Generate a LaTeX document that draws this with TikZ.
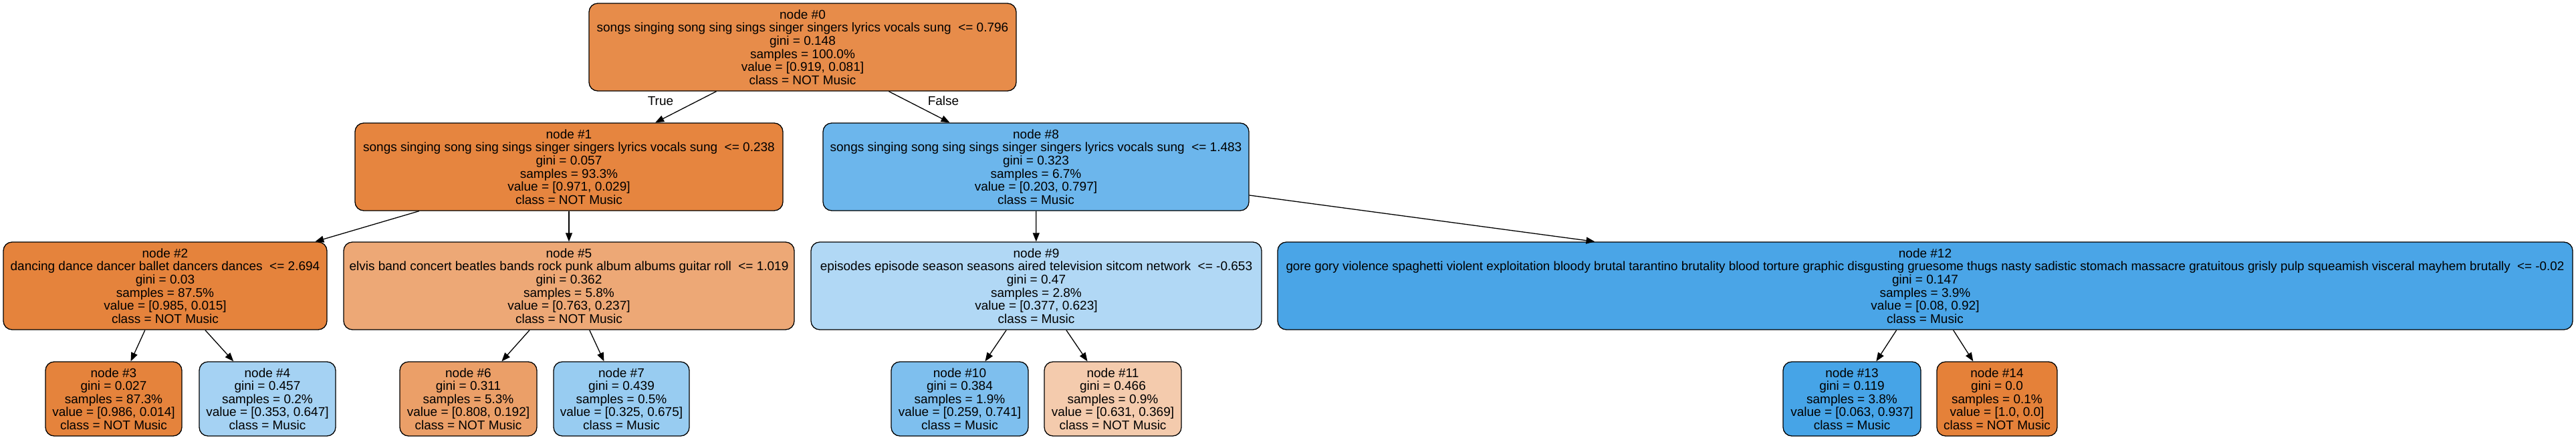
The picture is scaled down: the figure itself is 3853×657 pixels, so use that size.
\documentclass[tikz,border=0pt]{standalone}
\usepackage{graphicx}
\usepackage{fontspec}
\setmainfont{Liberation Sans}
\usetikzlibrary{arrows.meta}
\definecolor{c0}{HTML}{E78C4A}
\definecolor{c1}{HTML}{E6853F}
\definecolor{c2}{HTML}{E5833C}
\definecolor{c3}{HTML}{E5833C}
\definecolor{c4}{HTML}{A5D2F3}
\definecolor{c5}{HTML}{EDA876}
\definecolor{c6}{HTML}{EB9F68}
\definecolor{c7}{HTML}{98CCF1}
\definecolor{c8}{HTML}{6CB6EC}
\definecolor{c9}{HTML}{B1D8F5}
\definecolor{c10}{HTML}{7EBFEE}
\definecolor{c11}{HTML}{F4CBAD}
\definecolor{c12}{HTML}{4AA5E7}
\definecolor{c13}{HTML}{46A4E7}
\definecolor{c14}{HTML}{E58139}
\tikzset{
  tnode/.style={draw=black, line width=1.3pt, rounded corners=13pt, align=center,
    inner sep=0pt, font=\fontsize{19}{19.6}\selectfont, minimum height=131pt},
  leaf/.style={tnode, minimum height=111pt, minimum width=205pt},
  edge/.style={-{Triangle[length=13pt,width=10pt]}, line width=1.3pt},
  elabel/.style={font=\fontsize{19}{19.6}\selectfont, inner sep=0pt}
}
\begin{document}
\begin{tikzpicture}[x=1pt,y=-1pt]
\useasboundingbox (0,0) rectangle (3853,657);
% level 0
\node[tnode, fill=c0, minimum width=639pt] (n0) at (1200.5,70.5)
  {node \#0\\songs singing song sing sings singer singers lyrics vocals sung~ <= 0.796\\gini = 0.148\\samples = 100.0\%\\value = [0.919, 0.081]\\class = NOT Music};
% level 1
\node[tnode, fill=c1, minimum width=640pt] (n1) at (851,249.5)
  {node \#1\\songs singing song sing sings singer singers lyrics vocals sung~ <= 0.238\\gini = 0.057\\samples = 93.3\%\\value = [0.971, 0.029]\\class = NOT Music};
\node[tnode, fill=c8, minimum width=637pt] (n8) at (1549.5,249.5)
  {node \#8\\songs singing song sing sings singer singers lyrics vocals sung~ <= 1.483\\gini = 0.323\\samples = 6.7\%\\value = [0.203, 0.797]\\class = Music};
% level 2
\node[tnode, fill=c2, minimum width=484pt] (n2) at (247,427.5)
  {node \#2\\dancing dance dancer ballet dancers dances~ <= 2.694\\gini = 0.03\\samples = 87.5\%\\value = [0.985, 0.015]\\class = NOT Music};
\node[tnode, fill=c5, minimum width=674pt] (n5) at (851,427.5)
  {node \#5\\elvis band concert beatles bands rock punk album albums guitar roll~ <= 1.019\\gini = 0.362\\samples = 5.8\%\\value = [0.763, 0.237]\\class = NOT Music};
\node[tnode, fill=c9, minimum width=674pt] (n9) at (1550,427.5)
  {node \#9\\episodes episode season seasons aired television sitcom network~ <= -0.653\\gini = 0.47\\samples = 2.8\%\\value = [0.377, 0.623]\\class = Music};
\node[tnode, fill=c12, minimum width=1937pt] (n12) at (2879.5,427.5)
  {node \#12\\\resizebox{1912pt}{!}{gore gory violence spaghetti violent exploitation bloody brutal tarantino brutality blood torture graphic disgusting gruesome thugs nasty sadistic stomach massacre gratuitous grisly pulp squeamish visceral mayhem brutally~ <= -0.02}\\gini = 0.147\\samples = 3.9\%\\value = [0.08, 0.92]\\class = Music};
% leaves
\node[leaf, fill=c3, minimum width=204pt] (n3) at (170,596.5)
  {node \#3\\gini = 0.027\\samples = 87.3\%\\value = [0.986, 0.014]\\class = NOT Music};
\node[leaf, fill=c4, minimum width=204pt] (n4) at (400,596.5)
  {node \#4\\gini = 0.457\\samples = 0.2\%\\value = [0.353, 0.647]\\class = Music};
\node[leaf, fill=c6] (n6) at (700.5,596.5)
  {node \#6\\gini = 0.311\\samples = 5.3\%\\value = [0.808, 0.192]\\class = NOT Music};
\node[leaf, fill=c7, minimum width=203pt] (n7) at (929.5,596.5)
  {node \#7\\gini = 0.439\\samples = 0.5\%\\value = [0.325, 0.675]\\class = Music};
\node[leaf, fill=c10] (n10) at (1435.5,596.5)
  {node \#10\\gini = 0.384\\samples = 1.9\%\\value = [0.259, 0.741]\\class = Music};
\node[leaf, fill=c11] (n11) at (1664.5,596.5)
  {node \#11\\gini = 0.466\\samples = 0.9\%\\value = [0.631, 0.369]\\class = NOT Music};
\node[leaf, fill=c13, minimum width=206pt] (n13) at (2770,596.5)
  {node \#13\\gini = 0.119\\samples = 3.8\%\\value = [0.063, 0.937]\\class = Music};
\node[leaf, fill=c14, minimum width=180pt] (n14) at (2987,596.5)
  {node \#14\\gini = 0.0\\samples = 0.1\%\\value = [1.0, 0.0]\\class = NOT Music};
% edges
\draw[edge] (n0) -- (n1);
\draw[edge] (n0) -- (n8);
\draw[edge] (n1) -- (n2);
\draw[edge] (n1) -- (n5);
\draw[edge] (n2) -- (n3);
\draw[edge] (n2) -- (n4);
\draw[edge] (n5) -- (n6);
\draw[edge] (n5) -- (n7);
\draw[edge] (n8) -- (n9);
\draw[edge] (n8) -- (n12);
\draw[edge] (n9) -- (n10);
\draw[edge] (n9) -- (n11);
\draw[edge] (n12) -- (n13);
\draw[edge] (n12) -- (n14);
% edge labels
\node[elabel] (ltrue) at (988,151) {True};
\node[elabel] (lfalse) at (1411,151) {False};
\end{tikzpicture}
\end{document}
